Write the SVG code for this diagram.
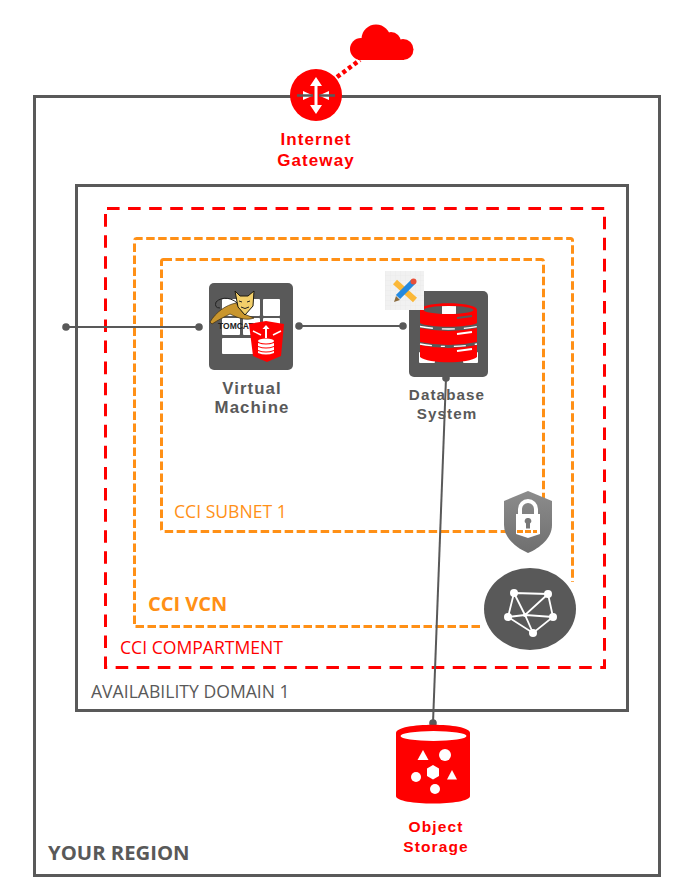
<svg xmlns="http://www.w3.org/2000/svg" width="686" height="886" viewBox="0 0 686 886">
<style>
.box{fill:none;stroke:#595959;stroke-width:3}
.red{fill:none;stroke:#f00;stroke-width:3;stroke-dasharray:12.6 8.47;stroke-dashoffset:-1.5}
.org{fill:none;stroke:#ff9016;stroke-width:3;stroke-dasharray:8.500 3.500}
.conn{fill:none;stroke:#595959;stroke-width:2}
.dot{fill:#595959}
.lbl{font-family:"Open Sans","Noto Sans",sans-serif;font-size:17.600px}
.cap{font-family:"Liberation Sans",Arial,sans-serif;font-size:15.500px;font-weight:700;letter-spacing:1.100px;text-anchor:middle}
.r{fill:#f00}.g{fill:#595959}.w{fill:#fff}
</style>
<defs>
<linearGradient id="sh" x1="0" y1="0" x2="0" y2="1"><stop offset="0" stop-color="#8c8c8c"/><stop offset="1" stop-color="#6f6f6f"/></linearGradient>
<pattern id="grid" width="5" height="5" patternUnits="userSpaceOnUse"><rect width="5" height="5" fill="#f1f1f1"/><path d="M5 0H0V5" fill="none" stroke="#e6e6e6" stroke-width=".6"/></pattern>
<clipPath id="topdisk"><ellipse cx="448.500" cy="310" rx="25" ry="4"/></clipPath>
</defs>

<g id="region"><rect class="box" x="34.500" y="96.500" width="625" height="779"/><text class="lbl" x="48" y="860" style="font-size:20.300px;font-weight:700" fill="#595959">YOUR REGION</text></g>
<g id="availability-domain"><rect class="box" x="76.500" y="185.500" width="551" height="525"/><text class="lbl" x="91" y="698" fill="#595959">AVAILABILITY DOMAIN 1</text></g>
<g id="compartment"><rect class="red" x="105.500" y="208.500" width="499" height="459"/><text class="lbl" x="120" y="654" fill="#f00">CCI COMPARTMENT</text></g>
<g id="vcn"><path class="org" d="M480 626.500H134.500V240.500Q134.500 238.500 136.500 238.500H570.500Q572.500 238.500 572.500 240.500V582"/><text class="lbl" x="148" y="611" style="font-size:20px;font-weight:700" fill="#ff9016">CCI VCN</text></g>
<g id="subnet"><rect class="org" x="161.500" y="259.500" width="382" height="272" rx="2"/><text class="lbl" x="174" y="518" fill="#ff9016">CCI SUBNET 1</text></g>

<g id="connectors">
<path class="conn" d="M66 327H199"/><circle class="dot" cx="66" cy="327" r="3.800"/><circle class="dot" cx="199" cy="327" r="3.800"/>
<path class="conn" d="M299 326H403"/><circle class="dot" cx="299" cy="326" r="3.800"/><circle class="dot" cx="403" cy="326" r="3.800"/>
<path class="conn" d="M446 378L433 723"/><circle class="dot" cx="446" cy="378" r="3.800"/><circle class="dot" cx="433" cy="723" r="3.800"/>
<path d="M337 77L360 60" fill="none" stroke="#f00" stroke-width="4.500" stroke-dasharray="4 3"/>
</g>

<g id="internet-gateway">
<g class="r"><circle cx="361" cy="49" r="11"/><circle cx="376" cy="39" r="14.500"/><circle cx="391" cy="42" r="10"/><circle cx="403" cy="49.500" r="10.500"/><rect x="358" y="44" width="46" height="16"/></g>
<circle class="r" cx="316" cy="95" r="26"/>
<g class="w"><rect x="314.500" y="84" width="3" height="24"/><path d="M316 77l-6 9h12zM316 114l-6-9h12zM303 91v9l10-4.500zM329 91v9l-10-4.500z"/></g>
<path d="M297 95.500H313M319 95.500H335" stroke="#595959" stroke-width="2.500" fill="none"/>
<text class="cap" style="font-size:17px" fill="#f00"><tspan x="316" y="145">Internet</tspan><tspan x="316" y="166">Gateway</tspan></text>
</g>

<g id="virtual-machine">
<rect class="g" x="209" y="283" width="84" height="87" rx="5"/>
<g class="w"><rect x="222" y="299" width="18" height="17" rx="1"/><rect x="243" y="299" width="17" height="17" rx="1"/><rect x="263" y="299" width="17" height="17" rx="1"/><rect x="222" y="318" width="18" height="17" rx="1"/><rect x="243" y="318" width="17" height="17" rx="1"/><rect x="263" y="318" width="17" height="17" rx="1"/><rect x="222" y="338" width="38" height="16" rx="1"/></g>
<path d="M240 306C233 297 222 296 216 302M216 302q-2 6 4 6" fill="none" stroke="#222" stroke-width="1"/>
<path d="M210 322C216 312 226 305 236 303L244 314L254 318C246 321 238 318 230 314C224 317 218 320 212 324z" fill="#c9962e" stroke="#3a2a10" stroke-width=".7"/>
<path d="M235 291L240 296H248L254 291L253 306L245 315L238 307z" fill="#f2cf6a" stroke="#1e1a0e" stroke-width="1"/>
<path d="M239 301l3 1M247 302l3-1M241 307q4 3 8 0" fill="none" stroke="#222" stroke-width="1"/>
<text x="218" y="329" font-family="Liberation Sans,Arial,sans-serif" font-size="8.500" font-weight="700" fill="#222">TOMCAT</text>
<path class="r" d="M266 321L284 324L281 356L267 362L253 356L249 324z"/>
<path class="w" d="M265 338v-9h-2.500l3.500-4l3.500 4h-2.500v9z"/>
<path d="M253 331l8 4M281 331l-8 4" stroke="#fff" stroke-width="1.500" fill="none"/>
<ellipse class="w" cx="266" cy="341" rx="8" ry="2.500"/><path class="w" d="M258 343q8 3 16 0v3q-8 3-16 0zM258 347q8 3 16 0v3q-8 3-16 0zM258 351q8 3 16 0v2q-8 3-16 0z"/>
<text class="cap" style="font-size:16.800px" fill="#595959"><tspan x="252" y="394">Virtual</tspan><tspan x="252" y="413">Machine</tspan></text>
</g>

<g id="database-system">
<rect class="g" x="409" y="291" width="79" height="86" rx="5"/>
<g class="w"><rect x="419" y="352" width="16" height="11" rx="1"/><rect x="463" y="352" width="15" height="11" rx="1"/></g>
<path class="r" d="M420 310c0-9 57-9 57 0v13c-8 5-49 5-57 0z"/>
<ellipse class="g" cx="448.500" cy="310" rx="25" ry="4"/>
<rect class="w" x="442" y="304" width="14" height="12" clip-path="url(#topdisk)"/>
<path class="r" d="M420 328q28.500 6 57 0v14q-28.500 6-57 0z"/>
<path class="r" d="M420 345q28.500 6 57 0v12c-8 7-49 7-57 0z"/>
<path d="M457 318l15-2M457 337" stroke="#595959" stroke-width="2" fill="none"/>
<path d="M457 334l15-2M457 351l15-2" stroke="#fff" stroke-width="2" fill="none"/>
<path d="M420 326.500q28.500 5 57 0" stroke="#fff" stroke-width="1.300" stroke-dasharray="13 9" fill="none"/>
<path d="M420 344q28.500 5 57 0" stroke="#fff" stroke-width="1.300" stroke-dasharray="12 9 4 9" fill="none"/>
<text class="cap" style="font-size:15.200px" fill="#595959"><tspan x="447" y="400">Database</tspan><tspan x="447" y="419">System</tspan></text>
</g>

<g id="design-icon">
<rect x="385" y="271" width="39" height="39" fill="url(#grid)"/>
<path d="M395 282L415 300" stroke="#fbb838" stroke-width="6" fill="none"/>
<path d="M413 282L398 297" stroke="#2389e0" stroke-width="6" fill="none"/>
<path d="M396 296l4 4l-6 2z" fill="#8a6a3c"/>
<circle cx="413.500" cy="281.500" r="3" fill="#e8503a"/>
</g>

<g id="security-list">
<path fill="url(#sh)" d="M528 491L552 501V525C552 538 540 548 528 553C516 548 504 538 504 525V501z"/>
<path d="M520 515v-6a8 8 0 0 1 16 0v6" fill="none" stroke="#fff" stroke-width="4"/>
<path class="w" d="M516 514h24v20l-12 4l-12-4z"/>
<path d="M528 518a3 3 0 0 1 2 5.500v5h-4v-5a3 3 0 0 1 2-5.500z" fill="#777"/>
<path d="M517 531.500h6M525 531.500h6M533 531.500h4" stroke="#ff9016" stroke-width="3" fill="none"/>
</g>

<g id="vcn-icon">
<ellipse cx="530" cy="609" rx="46" ry="41" fill="#595959"/>
<g fill="none" stroke="#fff" stroke-width="1.800"><path d="M514 593L548 594L553 617L533 633L508 617z"/><path d="M514 593L525 615L533 633M548 594L525 615L553 617M508 617L525 615"/></g>
<g class="w"><circle cx="514" cy="593" r="4"/><circle cx="548" cy="594" r="4"/><circle cx="553" cy="617" r="4"/><circle cx="533" cy="633" r="4"/><circle cx="508" cy="617" r="4"/><circle cx="525" cy="615" r="2"/></g>
</g>

<g id="object-storage">
<path class="r" d="M396 733C396 722 470 722 470 733V796C470 806 396 806 396 796z"/>
<ellipse class="w" cx="433.500" cy="736" rx="33" ry="5"/>
<path class="w" d="M423 750l5.500 10h-11z"/><circle class="w" cx="445" cy="755" r="6"/>
<path class="w" d="M433 765l6 3.500v7.500l-6 3.500l-6-3.500v-7.500z"/><circle class="w" cx="416" cy="777" r="5"/><path class="w" d="M452 770l5 9.500h-10z"/><circle class="w" cx="435" cy="789" r="5"/>
<text class="cap" fill="#f00"><tspan x="436" y="832">Object</tspan><tspan x="436" y="852">Storage</tspan></text>
</g>
</svg>
